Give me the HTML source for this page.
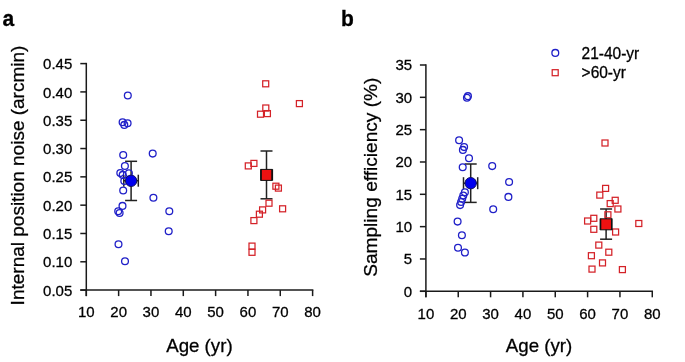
<!DOCTYPE html>
<html><head><meta charset="utf-8"><style>
html,body{margin:0;padding:0;background:#fff;}
svg{display:block;will-change:transform;font-family:"Liberation Sans", sans-serif;}
text{stroke:#000;stroke-width:0.28px;fill:#000;}
</style></head><body>
<svg width="685" height="362" viewBox="0 0 685 362" font-family='"Liberation Sans", sans-serif' fill="#111">
<rect width="685" height="362" fill="#fff"/>
<text transform="translate(2.5,25.6) scale(1,1.08)" font-size="21" font-weight="bold">a</text>
<text transform="translate(341,25.6) scale(1,1.07)" font-size="21" font-weight="bold">b</text>
<line x1="86.3" y1="62.85" x2="86.3" y2="296.1" stroke="#1a1a1a" stroke-width="1.5"/>
<line x1="80.3" y1="290.1" x2="313.36" y2="290.1" stroke="#1a1a1a" stroke-width="1.5"/>
<line x1="80.3" y1="63.60" x2="86.3" y2="63.60" stroke="#1a1a1a" stroke-width="1.5"/>
<text transform="translate(72.3,69.20) scale(1,1.03)" text-anchor="end" font-size="15">0.45</text>
<line x1="80.3" y1="91.91" x2="86.3" y2="91.91" stroke="#1a1a1a" stroke-width="1.5"/>
<text transform="translate(72.3,97.51) scale(1,1.03)" text-anchor="end" font-size="15">0.40</text>
<line x1="80.3" y1="120.23" x2="86.3" y2="120.23" stroke="#1a1a1a" stroke-width="1.5"/>
<text transform="translate(72.3,125.83) scale(1,1.03)" text-anchor="end" font-size="15">0.35</text>
<line x1="80.3" y1="148.54" x2="86.3" y2="148.54" stroke="#1a1a1a" stroke-width="1.5"/>
<text transform="translate(72.3,154.14) scale(1,1.03)" text-anchor="end" font-size="15">0.30</text>
<line x1="80.3" y1="176.85" x2="86.3" y2="176.85" stroke="#1a1a1a" stroke-width="1.5"/>
<text transform="translate(72.3,182.45) scale(1,1.03)" text-anchor="end" font-size="15">0.25</text>
<line x1="80.3" y1="205.16" x2="86.3" y2="205.16" stroke="#1a1a1a" stroke-width="1.5"/>
<text transform="translate(72.3,210.76) scale(1,1.03)" text-anchor="end" font-size="15">0.20</text>
<line x1="80.3" y1="233.48" x2="86.3" y2="233.48" stroke="#1a1a1a" stroke-width="1.5"/>
<text transform="translate(72.3,239.08) scale(1,1.03)" text-anchor="end" font-size="15">0.15</text>
<line x1="80.3" y1="261.79" x2="86.3" y2="261.79" stroke="#1a1a1a" stroke-width="1.5"/>
<text transform="translate(72.3,267.39) scale(1,1.03)" text-anchor="end" font-size="15">0.10</text>
<line x1="80.3" y1="290.10" x2="86.3" y2="290.10" stroke="#1a1a1a" stroke-width="1.5"/>
<text transform="translate(72.3,295.70) scale(1,1.03)" text-anchor="end" font-size="15">0.05</text>
<line x1="86.30" y1="290.1" x2="86.30" y2="296.1" stroke="#1a1a1a" stroke-width="1.5"/>
<text transform="translate(86.30,317.0) scale(1,1.03)" text-anchor="middle" font-size="15">10</text>
<line x1="118.63" y1="290.1" x2="118.63" y2="296.1" stroke="#1a1a1a" stroke-width="1.5"/>
<text transform="translate(118.63,317.0) scale(1,1.03)" text-anchor="middle" font-size="15">20</text>
<line x1="150.96" y1="290.1" x2="150.96" y2="296.1" stroke="#1a1a1a" stroke-width="1.5"/>
<text transform="translate(150.96,317.0) scale(1,1.03)" text-anchor="middle" font-size="15">30</text>
<line x1="183.29" y1="290.1" x2="183.29" y2="296.1" stroke="#1a1a1a" stroke-width="1.5"/>
<text transform="translate(183.29,317.0) scale(1,1.03)" text-anchor="middle" font-size="15">40</text>
<line x1="215.62" y1="290.1" x2="215.62" y2="296.1" stroke="#1a1a1a" stroke-width="1.5"/>
<text transform="translate(215.62,317.0) scale(1,1.03)" text-anchor="middle" font-size="15">50</text>
<line x1="247.95" y1="290.1" x2="247.95" y2="296.1" stroke="#1a1a1a" stroke-width="1.5"/>
<text transform="translate(247.95,317.0) scale(1,1.03)" text-anchor="middle" font-size="15">60</text>
<line x1="280.28" y1="290.1" x2="280.28" y2="296.1" stroke="#1a1a1a" stroke-width="1.5"/>
<text transform="translate(280.28,317.0) scale(1,1.03)" text-anchor="middle" font-size="15">70</text>
<line x1="312.61" y1="290.1" x2="312.61" y2="296.1" stroke="#1a1a1a" stroke-width="1.5"/>
<text transform="translate(312.61,317.0) scale(1,1.03)" text-anchor="middle" font-size="15">80</text>
<text transform="translate(199.4,351.6) scale(1,1.03)" text-anchor="middle" font-size="18.7">Age (yr)</text>
<text transform="translate(24.1,175.5) rotate(-90)" x="0" y="0" text-anchor="middle" font-size="19">Internal position noise (arcmin)</text>
<line x1="425.9" y1="64.25" x2="425.9" y2="297.3" stroke="#1a1a1a" stroke-width="1.5"/>
<line x1="419.9" y1="291.3" x2="653.03" y2="291.3" stroke="#1a1a1a" stroke-width="1.5"/>
<line x1="419.9" y1="65.00" x2="425.9" y2="65.00" stroke="#1a1a1a" stroke-width="1.5"/>
<text transform="translate(412.1,70.40) scale(1,1.03)" text-anchor="end" font-size="15">35</text>
<line x1="419.9" y1="97.33" x2="425.9" y2="97.33" stroke="#1a1a1a" stroke-width="1.5"/>
<text transform="translate(412.1,102.73) scale(1,1.03)" text-anchor="end" font-size="15">30</text>
<line x1="419.9" y1="129.66" x2="425.9" y2="129.66" stroke="#1a1a1a" stroke-width="1.5"/>
<text transform="translate(412.1,135.06) scale(1,1.03)" text-anchor="end" font-size="15">25</text>
<line x1="419.9" y1="161.99" x2="425.9" y2="161.99" stroke="#1a1a1a" stroke-width="1.5"/>
<text transform="translate(412.1,167.39) scale(1,1.03)" text-anchor="end" font-size="15">20</text>
<line x1="419.9" y1="194.31" x2="425.9" y2="194.31" stroke="#1a1a1a" stroke-width="1.5"/>
<text transform="translate(412.1,199.71) scale(1,1.03)" text-anchor="end" font-size="15">15</text>
<line x1="419.9" y1="226.64" x2="425.9" y2="226.64" stroke="#1a1a1a" stroke-width="1.5"/>
<text transform="translate(412.1,232.04) scale(1,1.03)" text-anchor="end" font-size="15">10</text>
<line x1="419.9" y1="258.97" x2="425.9" y2="258.97" stroke="#1a1a1a" stroke-width="1.5"/>
<text transform="translate(412.1,264.37) scale(1,1.03)" text-anchor="end" font-size="15">5</text>
<line x1="419.9" y1="291.30" x2="425.9" y2="291.30" stroke="#1a1a1a" stroke-width="1.5"/>
<text transform="translate(412.1,296.70) scale(1,1.03)" text-anchor="end" font-size="15">0</text>
<line x1="425.90" y1="291.3" x2="425.90" y2="297.3" stroke="#1a1a1a" stroke-width="1.5"/>
<text transform="translate(425.90,318.5) scale(1,1.03)" text-anchor="middle" font-size="15">10</text>
<line x1="458.24" y1="291.3" x2="458.24" y2="297.3" stroke="#1a1a1a" stroke-width="1.5"/>
<text transform="translate(458.24,318.5) scale(1,1.03)" text-anchor="middle" font-size="15">20</text>
<line x1="490.58" y1="291.3" x2="490.58" y2="297.3" stroke="#1a1a1a" stroke-width="1.5"/>
<text transform="translate(490.58,318.5) scale(1,1.03)" text-anchor="middle" font-size="15">30</text>
<line x1="522.92" y1="291.3" x2="522.92" y2="297.3" stroke="#1a1a1a" stroke-width="1.5"/>
<text transform="translate(522.92,318.5) scale(1,1.03)" text-anchor="middle" font-size="15">40</text>
<line x1="555.26" y1="291.3" x2="555.26" y2="297.3" stroke="#1a1a1a" stroke-width="1.5"/>
<text transform="translate(555.26,318.5) scale(1,1.03)" text-anchor="middle" font-size="15">50</text>
<line x1="587.60" y1="291.3" x2="587.60" y2="297.3" stroke="#1a1a1a" stroke-width="1.5"/>
<text transform="translate(587.60,318.5) scale(1,1.03)" text-anchor="middle" font-size="15">60</text>
<line x1="619.94" y1="291.3" x2="619.94" y2="297.3" stroke="#1a1a1a" stroke-width="1.5"/>
<text transform="translate(619.94,318.5) scale(1,1.03)" text-anchor="middle" font-size="15">70</text>
<line x1="652.28" y1="291.3" x2="652.28" y2="297.3" stroke="#1a1a1a" stroke-width="1.5"/>
<text transform="translate(652.28,318.5) scale(1,1.03)" text-anchor="middle" font-size="15">80</text>
<text transform="translate(539.1,352.3) scale(1,1.03)" text-anchor="middle" font-size="18.7">Age (yr)</text>
<text transform="translate(377,177.2) rotate(-90)" x="0" y="0" text-anchor="middle" font-size="19.1">Sampling efficiency (%)</text>
<circle cx="555.30" cy="52.90" r="3.4" fill="none" stroke="#2020c8" stroke-width="1.3"/>
<rect x="552.20" y="69.70" width="6.0" height="6.0" fill="none" stroke="#d42228" stroke-width="1.25"/>
<text transform="translate(581.6,58.8) scale(1,1.1)" font-size="15.5">21-40-yr</text>
<text transform="translate(581.6,78.2) scale(1,1.1)" font-size="15.5">&gt;60-yr</text>
<line x1="131.1" y1="161.3" x2="131.1" y2="200.5" stroke="#222" stroke-width="1.5"/>
<line x1="125.1" y1="161.3" x2="137.1" y2="161.3" stroke="#222" stroke-width="1.5"/>
<line x1="125.1" y1="200.5" x2="137.1" y2="200.5" stroke="#222" stroke-width="1.5"/>
<line x1="123.8" y1="180.7" x2="138.3" y2="180.7" stroke="#222" stroke-width="1.5"/>
<line x1="123.8" y1="174.7" x2="123.8" y2="186.7" stroke="#222" stroke-width="1.5"/>
<line x1="138.3" y1="174.7" x2="138.3" y2="186.7" stroke="#222" stroke-width="1.5"/>
<line x1="266.5" y1="151.0" x2="266.5" y2="198.8" stroke="#222" stroke-width="1.5"/>
<line x1="260.5" y1="151.0" x2="272.5" y2="151.0" stroke="#222" stroke-width="1.5"/>
<line x1="260.5" y1="198.8" x2="272.5" y2="198.8" stroke="#222" stroke-width="1.5"/>
<line x1="470.7" y1="164" x2="470.7" y2="202.4" stroke="#222" stroke-width="1.5"/>
<line x1="464.7" y1="164" x2="476.7" y2="164" stroke="#222" stroke-width="1.5"/>
<line x1="464.7" y1="202.4" x2="476.7" y2="202.4" stroke="#222" stroke-width="1.5"/>
<line x1="463.5" y1="183.2" x2="477.7" y2="183.2" stroke="#222" stroke-width="1.5"/>
<line x1="463.5" y1="177.2" x2="463.5" y2="189.2" stroke="#222" stroke-width="1.5"/>
<line x1="477.7" y1="177.2" x2="477.7" y2="189.2" stroke="#222" stroke-width="1.5"/>
<line x1="606.1" y1="209" x2="606.1" y2="239.2" stroke="#222" stroke-width="1.5"/>
<line x1="600.1" y1="209" x2="612.1" y2="209" stroke="#222" stroke-width="1.5"/>
<line x1="600.1" y1="239.2" x2="612.1" y2="239.2" stroke="#222" stroke-width="1.5"/>
<circle cx="127.80" cy="95.50" r="3.4" fill="none" stroke="#2020c8" stroke-width="1.3"/>
<circle cx="122.60" cy="122.30" r="3.4" fill="none" stroke="#2020c8" stroke-width="1.3"/>
<circle cx="127.60" cy="123.20" r="3.4" fill="none" stroke="#2020c8" stroke-width="1.3"/>
<circle cx="124.30" cy="124.90" r="3.4" fill="none" stroke="#2020c8" stroke-width="1.3"/>
<circle cx="123.20" cy="155.00" r="3.4" fill="none" stroke="#2020c8" stroke-width="1.3"/>
<circle cx="152.70" cy="153.60" r="3.4" fill="none" stroke="#2020c8" stroke-width="1.3"/>
<circle cx="124.90" cy="166.00" r="3.4" fill="none" stroke="#2020c8" stroke-width="1.3"/>
<circle cx="120.30" cy="173.10" r="3.4" fill="none" stroke="#2020c8" stroke-width="1.3"/>
<circle cx="122.70" cy="174.90" r="3.4" fill="none" stroke="#2020c8" stroke-width="1.3"/>
<circle cx="128.90" cy="173.30" r="3.4" fill="none" stroke="#2020c8" stroke-width="1.3"/>
<circle cx="124.30" cy="181.00" r="3.4" fill="none" stroke="#2020c8" stroke-width="1.3"/>
<circle cx="123.20" cy="190.50" r="3.4" fill="none" stroke="#2020c8" stroke-width="1.3"/>
<circle cx="153.40" cy="197.80" r="3.4" fill="none" stroke="#2020c8" stroke-width="1.3"/>
<circle cx="122.50" cy="205.90" r="3.4" fill="none" stroke="#2020c8" stroke-width="1.3"/>
<circle cx="118.20" cy="211.20" r="3.4" fill="none" stroke="#2020c8" stroke-width="1.3"/>
<circle cx="119.60" cy="213.00" r="3.4" fill="none" stroke="#2020c8" stroke-width="1.3"/>
<circle cx="169.30" cy="211.30" r="3.4" fill="none" stroke="#2020c8" stroke-width="1.3"/>
<circle cx="168.70" cy="231.20" r="3.4" fill="none" stroke="#2020c8" stroke-width="1.3"/>
<circle cx="118.50" cy="244.30" r="3.4" fill="none" stroke="#2020c8" stroke-width="1.3"/>
<circle cx="125.00" cy="261.30" r="3.4" fill="none" stroke="#2020c8" stroke-width="1.3"/>
<rect x="262.70" y="80.80" width="6.0" height="6.0" fill="none" stroke="#d42228" stroke-width="1.25"/>
<rect x="296.40" y="100.60" width="6.0" height="6.0" fill="none" stroke="#d42228" stroke-width="1.25"/>
<rect x="262.80" y="105.00" width="6.0" height="6.0" fill="none" stroke="#d42228" stroke-width="1.25"/>
<rect x="257.50" y="111.20" width="6.0" height="6.0" fill="none" stroke="#d42228" stroke-width="1.25"/>
<rect x="264.40" y="110.60" width="6.0" height="6.0" fill="none" stroke="#d42228" stroke-width="1.25"/>
<rect x="245.30" y="162.90" width="6.0" height="6.0" fill="none" stroke="#d42228" stroke-width="1.25"/>
<rect x="250.90" y="160.40" width="6.0" height="6.0" fill="none" stroke="#d42228" stroke-width="1.25"/>
<rect x="272.90" y="183.20" width="6.0" height="6.0" fill="none" stroke="#d42228" stroke-width="1.25"/>
<rect x="275.40" y="185.10" width="6.0" height="6.0" fill="none" stroke="#d42228" stroke-width="1.25"/>
<rect x="266.00" y="200.20" width="6.0" height="6.0" fill="none" stroke="#d42228" stroke-width="1.25"/>
<rect x="279.60" y="205.80" width="6.0" height="6.0" fill="none" stroke="#d42228" stroke-width="1.25"/>
<rect x="259.60" y="206.90" width="6.0" height="6.0" fill="none" stroke="#d42228" stroke-width="1.25"/>
<rect x="256.40" y="211.20" width="6.0" height="6.0" fill="none" stroke="#d42228" stroke-width="1.25"/>
<rect x="250.90" y="217.60" width="6.0" height="6.0" fill="none" stroke="#d42228" stroke-width="1.25"/>
<rect x="249.00" y="243.10" width="6.0" height="6.0" fill="none" stroke="#d42228" stroke-width="1.25"/>
<rect x="249.00" y="249.30" width="6.0" height="6.0" fill="none" stroke="#d42228" stroke-width="1.25"/>
<circle cx="466.95" cy="97.75" r="3.4" fill="none" stroke="#2020c8" stroke-width="1.3"/>
<circle cx="467.95" cy="96.15" r="3.4" fill="none" stroke="#2020c8" stroke-width="1.3"/>
<circle cx="459.10" cy="140.30" r="3.4" fill="none" stroke="#2020c8" stroke-width="1.3"/>
<circle cx="464.10" cy="147.10" r="3.4" fill="none" stroke="#2020c8" stroke-width="1.3"/>
<circle cx="462.90" cy="149.90" r="3.4" fill="none" stroke="#2020c8" stroke-width="1.3"/>
<circle cx="469.00" cy="158.20" r="3.4" fill="none" stroke="#2020c8" stroke-width="1.3"/>
<circle cx="462.70" cy="167.30" r="3.4" fill="none" stroke="#2020c8" stroke-width="1.3"/>
<circle cx="492.20" cy="166.10" r="3.4" fill="none" stroke="#2020c8" stroke-width="1.3"/>
<circle cx="509.10" cy="182.00" r="3.4" fill="none" stroke="#2020c8" stroke-width="1.3"/>
<circle cx="508.40" cy="196.90" r="3.4" fill="none" stroke="#2020c8" stroke-width="1.3"/>
<circle cx="493.20" cy="209.20" r="3.4" fill="none" stroke="#2020c8" stroke-width="1.3"/>
<circle cx="464.90" cy="192.20" r="3.4" fill="none" stroke="#2020c8" stroke-width="1.3"/>
<circle cx="463.30" cy="195.60" r="3.4" fill="none" stroke="#2020c8" stroke-width="1.3"/>
<circle cx="462.20" cy="198.80" r="3.4" fill="none" stroke="#2020c8" stroke-width="1.3"/>
<circle cx="461.10" cy="202.00" r="3.4" fill="none" stroke="#2020c8" stroke-width="1.3"/>
<circle cx="460.10" cy="205.10" r="3.4" fill="none" stroke="#2020c8" stroke-width="1.3"/>
<circle cx="457.60" cy="221.60" r="3.4" fill="none" stroke="#2020c8" stroke-width="1.3"/>
<circle cx="461.90" cy="235.20" r="3.4" fill="none" stroke="#2020c8" stroke-width="1.3"/>
<circle cx="458.00" cy="247.80" r="3.4" fill="none" stroke="#2020c8" stroke-width="1.3"/>
<circle cx="464.90" cy="252.50" r="3.4" fill="none" stroke="#2020c8" stroke-width="1.3"/>
<rect x="602.00" y="140.00" width="6.0" height="6.0" fill="none" stroke="#d42228" stroke-width="1.25"/>
<rect x="602.60" y="185.40" width="6.0" height="6.0" fill="none" stroke="#d42228" stroke-width="1.25"/>
<rect x="596.80" y="192.10" width="6.0" height="6.0" fill="none" stroke="#d42228" stroke-width="1.25"/>
<rect x="612.20" y="197.30" width="6.0" height="6.0" fill="none" stroke="#d42228" stroke-width="1.25"/>
<rect x="607.20" y="200.60" width="6.0" height="6.0" fill="none" stroke="#d42228" stroke-width="1.25"/>
<rect x="614.90" y="206.00" width="6.0" height="6.0" fill="none" stroke="#d42228" stroke-width="1.25"/>
<rect x="604.90" y="211.80" width="6.0" height="6.0" fill="none" stroke="#d42228" stroke-width="1.25"/>
<rect x="584.60" y="218.00" width="6.0" height="6.0" fill="none" stroke="#d42228" stroke-width="1.25"/>
<rect x="590.80" y="215.30" width="6.0" height="6.0" fill="none" stroke="#d42228" stroke-width="1.25"/>
<rect x="590.80" y="226.30" width="6.0" height="6.0" fill="none" stroke="#d42228" stroke-width="1.25"/>
<rect x="612.60" y="229.00" width="6.0" height="6.0" fill="none" stroke="#d42228" stroke-width="1.25"/>
<rect x="635.80" y="220.50" width="6.0" height="6.0" fill="none" stroke="#d42228" stroke-width="1.25"/>
<rect x="595.80" y="242.10" width="6.0" height="6.0" fill="none" stroke="#d42228" stroke-width="1.25"/>
<rect x="605.80" y="249.20" width="6.0" height="6.0" fill="none" stroke="#d42228" stroke-width="1.25"/>
<rect x="588.40" y="252.70" width="6.0" height="6.0" fill="none" stroke="#d42228" stroke-width="1.25"/>
<rect x="599.50" y="259.90" width="6.0" height="6.0" fill="none" stroke="#d42228" stroke-width="1.25"/>
<rect x="589.00" y="266.10" width="6.0" height="6.0" fill="none" stroke="#d42228" stroke-width="1.25"/>
<rect x="619.40" y="266.60" width="6.0" height="6.0" fill="none" stroke="#d42228" stroke-width="1.25"/>
<circle cx="131.1" cy="180.8" r="5.7" fill="#0000ee" stroke="#101060" stroke-width="1"/>
<rect x="261" y="169.4" width="11" height="11" fill="#ee1111" stroke="#111" stroke-width="1"/>
<line x1="260.9" y1="169.2" x2="260.9" y2="180.6" stroke="#111" stroke-width="1.6"/>
<line x1="272.3" y1="169.2" x2="272.3" y2="180.6" stroke="#111" stroke-width="1.6"/>
<circle cx="470.7" cy="183.2" r="5.7" fill="#0000ee" stroke="#101060" stroke-width="1"/>
<rect x="600.6" y="218.8" width="11" height="11" fill="#ee1111" stroke="#111" stroke-width="1"/>
<line x1="600.4" y1="218.6" x2="600.4" y2="230" stroke="#111" stroke-width="1.6"/>
<line x1="611.8" y1="218.6" x2="611.8" y2="230" stroke="#111" stroke-width="1.6"/>
</svg>
</body></html>
